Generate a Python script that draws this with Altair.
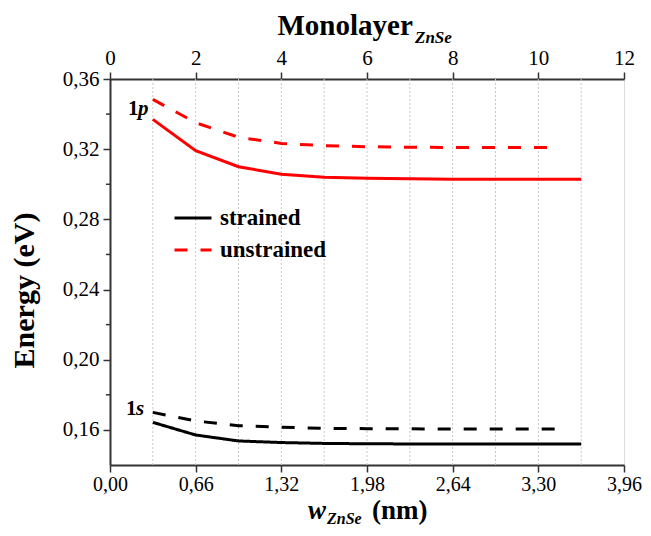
import altair as alt
import pandas as pd

# ---------------- data ----------------
nm_strained = [0.33, 0.66, 0.99, 1.32, 1.65, 1.98, 2.31, 2.64, 2.97, 3.30, 3.63]
nm_unstrained = [0.33, 0.66, 0.99, 1.32, 1.65, 1.98, 2.31, 2.64, 2.97, 3.30, 3.465]
strained_1p = [0.3370, 0.3191, 0.3100, 0.3057, 0.3040, 0.3034, 0.3031, 0.3029, 0.3028, 0.3028, 0.3028]
strained_1s = [0.1643, 0.1571, 0.1537, 0.1528, 0.1523, 0.1521, 0.1520, 0.1520, 0.1519, 0.1519, 0.1519]
unstrained_1p = [0.3484, 0.3351, 0.3268, 0.3233, 0.3220, 0.3214, 0.3211, 0.3210, 0.3209, 0.3209, 0.3209]
unstrained_1s = [0.1700, 0.1651, 0.1624, 0.1615, 0.1609, 0.1607, 0.1606, 0.1605, 0.1605, 0.1605, 0.1605]

monolayer_grid = [1, 2, 3, 4, 5, 6, 7, 8, 9, 10, 11]
monolayer_ticks = [0, 2, 4, 6, 8, 10, 12]
nm_ticks = [0.00, 0.66, 1.32, 1.98, 2.64, 3.30, 3.96]
energy_major = [0.16, 0.20, 0.24, 0.28, 0.32, 0.36]
energy_minor = [0.18, 0.22, 0.26, 0.30, 0.34]
types = ["strained", "unstrained"]

FONT = "Liberation Serif"


def frame(xs, ys, state, typ):
    return pd.DataFrame({"nm": xs, "E": ys, "state": state, "type": typ})


df_s1p = frame(nm_strained, strained_1p, "1p", "strained")
df_s1s = frame(nm_strained, strained_1s, "1s", "strained")
df_u1p = frame(nm_unstrained, unstrained_1p, "1p", "unstrained")
df_u1s = frame(nm_unstrained, unstrained_1s, "1s", "unstrained")

xscale = alt.Scale(domain=[0, 3.96], nice=False, zero=False)
yscale = alt.Scale(domain=[0.14, 0.36], nice=False, zero=False)

comma = "replace(format(datum.value, '.2f'), '.', ',')"

x_axis = alt.Axis(
    orient="bottom", values=nm_ticks, title=None, grid=False, labelExpr=comma,
    labelFont=FONT, labelFontSize=20, labelColor="black", labelPadding=2,
    tickSize=7, tickColor="#333", tickWidth=1.5,
    domainColor="#333", domainWidth=2, labelFlush=False,
)
y_axis = alt.Axis(
    values=energy_major, title="Energy (eV)", grid=False, labelExpr=comma,
    labelFont=FONT, labelFontSize=21, labelColor="black", labelPadding=4,
    tickSize=7, tickColor="#333", tickWidth=1.5,
    domainColor="#333", domainWidth=2,
    titleFont=FONT, titleFontSize=30, titleFontWeight="bold", titleColor="black",
    titleX=-86, titleY=211, titleBaseline="middle", titleAngle=-90,
)

leg = alt.Legend(
    orient="none", legendX=63, legendY=119, title=None,
    symbolType="stroke", symbolSize=1369, symbolStrokeWidth=3,
    labelFont=FONT, labelFontSize=23, labelFontWeight="bold", labelColor="black",
    labelOffset=7, padding=0, rowPadding=-8,
)

# curves carrying the legend: strained 1s (black solid), unstrained 1p (red dashed)
legend_curves = alt.Chart(pd.concat([df_s1s, df_u1p])).mark_line(strokeWidth=3).encode(
    x=alt.X("nm:Q", scale=xscale, axis=x_axis),
    y=alt.Y("E:Q", scale=yscale, axis=y_axis),
    color=alt.Color("type:N", scale=alt.Scale(domain=types, range=["black", "red"]), legend=leg),
    strokeDash=alt.StrokeDash("type:N", scale=alt.Scale(domain=types, range=[[1, 0], [13, 13]]), legend=leg),
    detail="state:N",
)

red_solid = alt.Chart(df_s1p).mark_line(strokeWidth=3, color="red").encode(
    x=alt.X("nm:Q", scale=xscale), y=alt.Y("E:Q", scale=yscale)
)
black_dashed = alt.Chart(df_u1s).mark_line(strokeWidth=3, color="black", strokeDash=[13, 13]).encode(
    x=alt.X("nm:Q", scale=xscale), y=alt.Y("E:Q", scale=yscale)
)

# minor ticks of the energy axis
minor_ticks = alt.Chart(pd.DataFrame({"E": energy_minor})).mark_rule(
    color="#333", strokeWidth=1.5
).encode(x=alt.value(-4), x2=alt.value(0), y=alt.Y("E:Q", scale=yscale))


def label(text, x, y, size, italic=False, bold=True, align="left"):
    return alt.Chart(pd.DataFrame({"t": [text]})).mark_text(
        font=FONT, fontSize=size, fontWeight="bold" if bold else "normal",
        fontStyle="italic" if italic else "normal", align=align,
        baseline="alphabetic", color="black",
    ).encode(x=alt.value(x), y=alt.value(y), text="t:N")


state_labels = [
    label("1", 18, 36, 21), label("p", 28, 36, 21, italic=True),
    label("1", 16, 336, 21), label("s", 26, 336, 21, italic=True),
]
title_parts = [
    label("w", 198, 440, 27, italic=True),
    label("ZnSe", 217, 445, 16, italic=True),
    label("(nm)", 262, 440, 27),
    label("ZnSe", 305, -36, 17, italic=True),
]

curves = alt.layer(minor_ticks, red_solid, black_dashed, legend_curves, *state_labels, *title_parts)

grid = alt.Chart(pd.DataFrame({"ml": monolayer_grid})).mark_rule(
    color="#c8c8c8", strokeWidth=1, strokeDash=[2, 2]
).encode(
    x=alt.X("ml:Q", scale=alt.Scale(domain=[0, 12], nice=False, zero=False),
            axis=alt.Axis(orient="top", values=monolayer_ticks, grid=False, title="Monolayer",
                          labelFont=FONT, labelFontSize=21, labelColor="black", labelPadding=4,
                          tickSize=7, tickColor="#333", tickWidth=1.5,
                          domainColor="#333", domainWidth=2, labelFlush=False,
                          titleFont=FONT, titleFontSize=29, titleFontWeight="bold", titleColor="black",
                          titleX=167, titleY=-45, titleAlign="left", titleBaseline="alphabetic"))
)

chart = alt.layer(grid, curves).resolve_scale(x="independent").properties(
    width=514, height=386,
    autosize=alt.AutoSizeParams(type="none"),
    padding={"left": 102, "top": 71, "right": 19, "bottom": 63},
).configure_view(stroke="#444", strokeWidth=1.5).configure(background="white")

chart.save("out.html", embed_options={"renderer": "svg", "actions": False})
